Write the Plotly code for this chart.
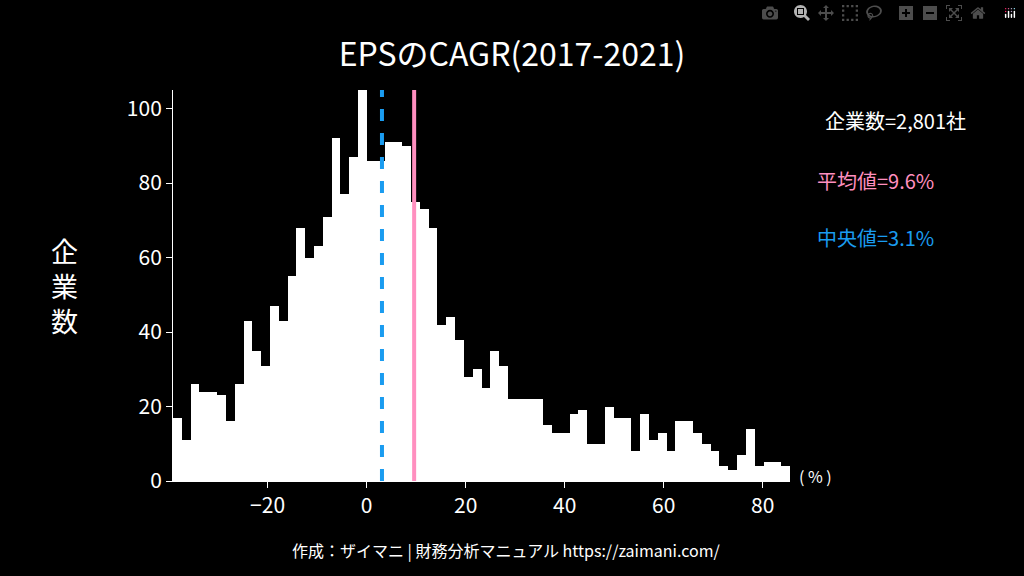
import plotly.graph_objects as go

# histogram of EPS CAGR (%), bin edges start / width
bin_start = -39.1
bin_width = 1.78
counts = [17, 11, 26, 24, 24, 23, 16, 26, 43, 35, 31, 47, 43, 55, 68, 60, 63, 71, 92, 77,
          87, 105, 86, 86, 91, 91, 90, 75, 73, 68, 42, 44, 38, 28, 30, 25, 35, 31, 22, 22,
          22, 22, 15, 13, 13, 18, 19, 10, 10, 20, 17, 17, 8, 18, 11, 13, 8, 16, 16, 13,
          10, 8, 4, 3, 7, 14, 4, 5, 5, 4]
mean_val = 9.6
median_val = 3.1
n_companies = "2,801"

centers = [bin_start + bin_width * (i + 0.5) for i in range(len(counts))]
x_max = bin_start + bin_width * len(counts)

font = "Noto Sans CJK JP"
fig = go.Figure()
fig.add_trace(go.Bar(x=centers, y=counts, width=bin_width,
                     marker=dict(color="white", line=dict(width=0))))

# median (dashed) and mean lines
fig.add_shape(type="line", x0=median_val, x1=median_val, y0=0, y1=105,
              line=dict(color="#1a9cf0", width=4, dash="dash"))
fig.add_shape(type="line", x0=mean_val, x1=mean_val, y0=0, y1=105,
              line=dict(color="#ff8fbf", width=4))

fig.update_layout(
    width=1024, height=576,
    paper_bgcolor="black", plot_bgcolor="black",
    margin=dict(l=173, r=234, t=90, b=95),
    bargap=0, showlegend=False,
    font=dict(family=font, color="white", size=20),
    title=dict(text="EPSのCAGR(2017-2021)", x=0.5, xanchor="center", y=0.925,
               font=dict(size=32)),
)
fig.update_xaxes(range=[bin_start, x_max], tickvals=[-20, 0, 20, 40, 60, 80],
                 ticks="outside", ticklen=6, tickcolor="white", showline=True,
                 linecolor="white", showgrid=False, zeroline=False,
                 tickfont=dict(size=21))
fig.update_yaxes(range=[0, 105], tickvals=[0, 20, 40, 60, 80, 100],
                 ticks="outside", ticklen=6, tickcolor="white", showline=True,
                 linecolor="white", showgrid=False, zeroline=False,
                 tickfont=dict(size=21))

anns = [
    dict(text="企<br>業<br>数", x=65, y=285, size=27, color="white"),
    dict(text="企業数=" + n_companies + "社", x=895, y=120, size=20, color="white"),
    dict(text="平均値=" + str(mean_val) + "%", x=875, y=180, size=20, color="#ff8fbf"),
    dict(text="中央値=" + str(median_val) + "%", x=875, y=237, size=20, color="#1a9cf0"),
    dict(text="( % )", x=815, y=476, size=16, color="white"),
    dict(text="作成：ザイマニ | 財務分析マニュアル https://zaimani.com/", x=506, y=550,
         size=16, color="white"),
]
for a in anns:
    fig.add_annotation(text=a["text"], xref="paper", yref="paper",
                       x=(a["x"] - 173) / (1024 - 173 - 234),
                       y=(576 - 95 - a["y"]) / (576 - 90 - 95),
                       showarrow=False, xanchor="center", yanchor="middle",
                       font=dict(size=a["size"], color=a["color"], family=font))

fig.write_html("out.html",
               post_script="document.body.style.margin='0';"
                           "document.body.style.background='black';")
